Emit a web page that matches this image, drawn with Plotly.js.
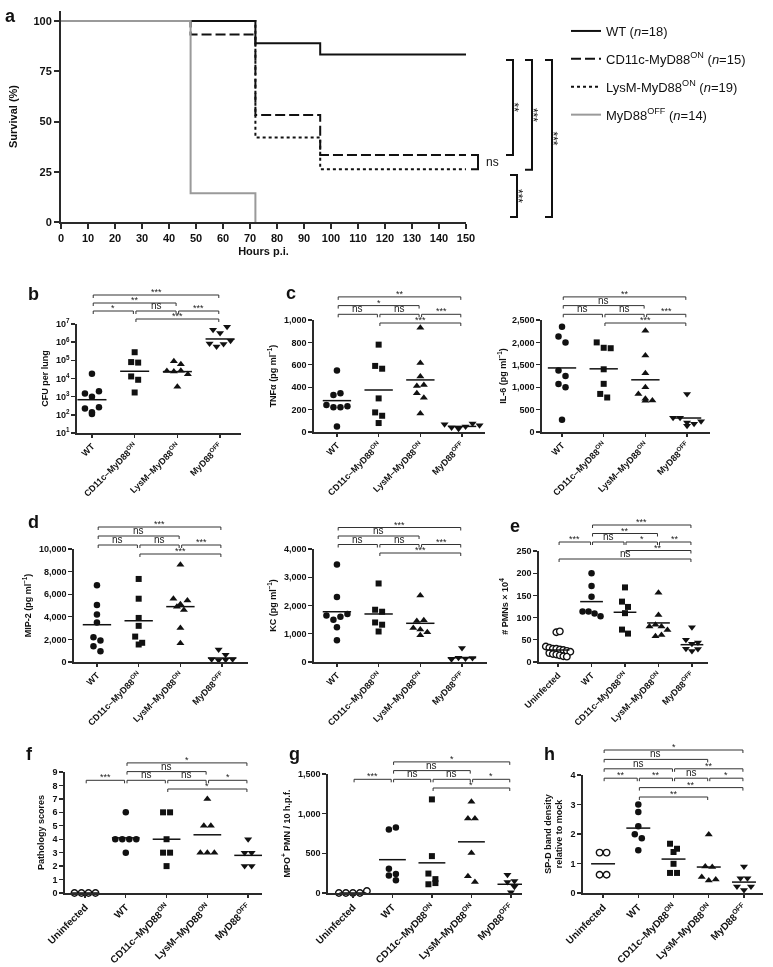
<!DOCTYPE html>
<html><head><meta charset="utf-8">
<script src="https://cdn.plot.ly/plotly-3.0.1.min.js"></script>
<style>body{margin:0;background:#fff}#chart{width:773px;height:967px;filter:grayscale(100%)}</style>
</head><body><div id="chart"></div>
<script>
// ================= DATA =================
// (a) Kaplan-Meier survival
const survHours = [0, 48, 72, 96, 150];
const survHoursOff = [0, 48, 72];
const survWT = [100, 100, 88.9, 83.3, 83.3];
const survCD11c = [100, 93.3, 53.3, 33.3, 33.3];
const survLysM = [100, 100, 42.1, 26.3, 26.3];
const survOff = [100, 14.3, 0];
const survNames = ['WT (<i>n</i>=18)', 'CD11c-MyD88<sup>ON</sup> (<i>n</i>=15)', 'LysM-MyD88<sup>ON</sup> (<i>n</i>=19)', 'MyD88<sup>OFF</sup> (<i>n</i>=14)'];
const survStats = [['CD11c', 'LysM', 'ns'], ['WT', 'CD11c', '**'], ['WT', 'LysM', '***'], ['WT', 'Off', '***'], ['LysM', 'Off', '***']];

// group labels
const groups4 = ['WT', 'CD11c–MyD88<sup>ON</sup>', 'LysM–MyD88<sup>ON</sup>', 'MyD88<sup>OFF</sup>'];
const groups5 = ['Uninfected', 'WT', 'CD11c–MyD88<sup>ON</sup>', 'LysM–MyD88<sup>ON</sup>', 'MyD88<sup>OFF</sup>'];

// (b) CFU per lung
const cfuPerLung = [
  [1.8e4, 1.5e3, 1.0e3, 2.0e3, 220, 110, 140, 260],
  [2.8e5, 8.0e4, 7.5e4, 1.3e4, 8.5e3, 1.7e3],
  [9.0e4, 6.0e4, 2.6e4, 2.4e4, 2.7e4, 1.7e4, 3.5e3],
  [4.9e6, 3.2e6, 7.0e6, 8.5e5, 5.7e5, 7.9e5, 1.2e6]
];
const cfuCentre = [680, 2.5e4, 2.4e4, 1.5e6];
const cfuTicks = [10, 100, 1e3, 1e4, 1e5, 1e6, 1e7];
const cfuTickText = ['10<sup>1</sup>', '10<sup>2</sup>', '10<sup>3</sup>', '10<sup>4</sup>', '10<sup>5</sup>', '10<sup>6</sup>', '10<sup>7</sup>'];
const cfuStats = [[0, 3, 3, '***'], [0, 2, 2, '**'], [0, 1, 1, '*'], [1, 2, 1, 'ns'], [2, 3, 1, '***'], [1, 3, 0, '***']];

// (c) TNF-alpha
const tnf = [
  [550, 330, 345, 240, 220, 220, 230, 50],
  [780, 590, 565, 300, 175, 145, 80],
  [930, 615, 495, 410, 420, 345, 305, 165],
  [70, 40, 30, 50, 75, 60]
];
const tnfCentre = [280, 375, 465, 50];
const tnfStats = [[0, 3, 3, '**'], [0, 2, 2, '*'], [0, 1, 1, 'ns'], [1, 2, 1, 'ns'], [2, 3, 1, '***'], [1, 3, 0, '***']];

// (c) IL-6
const il6 = [
  [2350, 2130, 2000, 1370, 1250, 1070, 1000, 275],
  [2000, 1880, 1870, 1400, 1075, 850, 770],
  [2260, 1710, 1310, 1000, 850, 740, 700, 705],
  [850, 320, 320, 210, 140, 185, 240]
];
const il6Centre = [1430, 1410, 1165, 312];
const il6Stats = [[0, 3, 3, '**'], [0, 2, 2, 'ns'], [0, 1, 1, 'ns'], [1, 2, 1, 'ns'], [2, 3, 1, '***'], [1, 3, 0, '***']];

// (d) MIP-2
const mip2 = [
  [6800, 5050, 4200, 3500, 2200, 1900, 1400, 950],
  [7350, 5600, 3900, 3200, 2250, 1550, 1700],
  [8600, 5600, 5100, 5450, 4900, 4600, 3000, 1650],
  [1100, 650, 250, 150, 200, 250]
];
const mip2Centre = [3300, 3650, 4900, 350];
const mip2Stats = [[0, 3, 3, '***'], [0, 2, 2, 'ns'], [0, 1, 1, 'ns'], [1, 2, 1, 'ns'], [2, 3, 1, '***'], [1, 3, 0, '***']];

// (d) KC
const kcData = [
  [3450, 2300, 1650, 1500, 1600, 1700, 1230, 770],
  [2780, 1850, 1780, 1400, 1320, 1080],
  [2350, 1450, 1480, 1200, 1150, 950, 1050],
  [500, 100, 150, 120, 140]
];
const kcCentre = [1780, 1700, 1370, 150];
const kcStats = [[0, 3, 3, '***'], [0, 2, 2, 'ns'], [0, 1, 1, 'ns'], [1, 2, 1, 'ns'], [2, 3, 1, '***'], [1, 3, 0, '***']];

// (e) PMNs x 10^4
const pmn = [
  [67, 69, 35, 32, 30, 30, 28, 27, 25, 23, 20, 18, 17, 15, 13, 12],
  [200, 171, 147, 114, 114, 109, 103],
  [168, 136, 124, 110, 73, 64],
  [156, 106, 80, 84, 80, 72, 58, 61],
  [78, 50, 41, 44, 30, 25, 29]
];
const pmnCentre = [27, 136, 112, 88, 39];
const pmnStats = [[1, 4, 4, '***'], [1, 3, 3, '**'], [0, 1, 2, '***'], [1, 2, 2, 'ns'], [2, 3, 2, '*'], [3, 4, 2, '**'], [2, 4, 1, '**'], [0, 4, 0, 'ns']];

// (f) Pathology scores
const patho = [
  [0, 0, 0, 0],
  [6, 4, 4, 4, 4, 3],
  [6, 6, 4, 3, 3, 2],
  [7, 5, 5, 3, 3, 3],
  [4, 3, 3, 2, 2]
];
const pathoCentre = [0, 4.1, 4, 4.33, 2.8];
const pathoStats = [[1, 4, 3, '*'], [1, 3, 2, 'ns'], [0, 1, 1, '***'], [1, 2, 1, 'ns'], [2, 3, 1, 'ns'], [3, 4, 1, '*'], [2, 4, 0, '*']];

// (g) MPO+ PMN / 10 h.p.f.
const mpo = [
  [0, 0, 0, 0, 25],
  [800, 825, 305, 240, 220, 160],
  [1180, 465, 245, 175, 110, 125],
  [1150, 940, 940, 505, 210, 140],
  [230, 140, 150, 80, 10]
];
const mpoCentre = [0, 420, 380, 645, 110];
const mpoStats = [[1, 4, 3, '*'], [1, 3, 2, 'ns'], [0, 1, 1, '***'], [1, 2, 1, 'ns'], [2, 3, 1, 'ns'], [3, 4, 1, '*'], [2, 4, 0, '*']];

// (h) SP-D band density relative to mock
const spd = [
  [1.37, 1.37, 0.62, 0.62],
  [3.0, 2.75, 2.26, 1.99, 1.86, 1.45],
  [1.67, 1.5, 1.39, 0.99, 0.68, 0.68],
  [1.98, 0.9, 0.88, 0.54, 0.42, 0.46],
  [0.9, 0.5, 0.5, 0.22, 0.1, 0.22]
];
const spdCentre = [0.99, 2.2, 1.15, 0.88, 0.37];
const spdStats = [[0, 4, 5, '*'], [0, 3, 4, 'ns'], [0, 2, 3, 'ns'], [2, 4, 3, '**'], [0, 1, 2, '**'], [1, 2, 2, '**'], [2, 3, 2, 'ns'], [3, 4, 2, '*'], [1, 4, 1, '**'], [1, 3, 0, '**']];

// ================= LAYOUT HELPERS =================
const W = 773, H = 967;
const FONT = 'Liberation Sans, Arial, Helvetica, sans-serif';
const AX = '#2a2a2a';
const INK = '#111';
const fx = px => px / W;
const fy = py => 1 - py / H;

const layout = {
  width: W, height: H,
  margin: {l: 0, r: 0, t: 0, b: 0},
  paper_bgcolor: '#fff', plot_bgcolor: 'rgba(0,0,0,0)',
  font: {family: FONT, color: INK, size: 11},
  showlegend: true,
  legend: {x: fx(566), y: fy(16), xanchor: 'left', yanchor: 'top', font: {size: 13, color: INK},
    bgcolor: 'rgba(0,0,0,0)', traceorder: 'grouped', tracegroupgap: 8, itemwidth: 30, itemclick: false, itemdoubleclick: false},
  shapes: [], annotations: []
};
const traces = [];

// ---------- panel a ----------
const survSeries = [
  {x: survHours, y: survWT, line: {color: INK, width: 2}},
  {x: survHours, y: survCD11c, line: {color: INK, width: 2, dash: '10px,4px'}},
  {x: survHours, y: survLysM, line: {color: INK, width: 2, dash: '3px,3px'}},
  {x: survHoursOff, y: survOff, line: {color: '#9a9a9a', width: 2}}
];
survSeries.forEach((s, i) => {
  traces.push({type: 'scatter', mode: 'lines', x: s.x, y: s.y, xaxis: 'x', yaxis: 'y',
    line: Object.assign({shape: 'hv'}, s.line), name: survNames[i], legendgroup: 'g' + i, showlegend: true,
    cliponaxis: false, hoverinfo: 'skip'});
});
layout.xaxis = {domain: [fx(61), fx(466)], range: [0, 150], anchor: 'y', tickmode: 'linear', tick0: 0, dtick: 10,
  showline: true, linewidth: 2, linecolor: AX, ticks: 'outside', ticklen: 5, tickwidth: 2, tickcolor: AX,
  tickfont: {size: 11, weight: 700, color: INK}, showgrid: false, zeroline: false,
  title: {text: 'Hours p.i.', font: {size: 11, weight: 700, color: INK}, standoff: 4}};
layout.yaxis = {domain: [fy(222), fy(11)], range: [0, 105], anchor: 'x', tickmode: 'array', tickvals: [0, 25, 50, 75, 100],
  showline: true, linewidth: 2, linecolor: AX, ticks: 'outside', ticklen: 5, tickwidth: 2, tickcolor: AX,
  tickfont: {size: 11, weight: 700, color: INK}, showgrid: false, zeroline: false,
  title: {text: 'Survival (%)', font: {size: 11, weight: 700, color: INK}, standoff: 14}};

// survival significance brackets (right side)
const survFinal = {WT: survWT[survWT.length - 1], CD11c: survCD11c[survCD11c.length - 1], LysM: survLysM[survLysM.length - 1], Off: survOff[survOff.length - 1]};
const survBracketX = [478, 513, 532, 552, 517];
const survTopInset = [0, 2.7, 2.7, 2.7, 2.9];
const survBotInset = [0, 0, 0.3, -2.5, -2.5];
survStats.forEach(([a, b, lab], k) => {
  const top = survFinal[a] - survTopInset[k];
  const bot = survFinal[b] - survBotInset[k];
  const xl = fx(survBracketX[k]), xs = fx(survBracketX[k] - 7);
  layout.shapes.push({type: 'path', xref: 'paper', yref: 'y', path: `M${xs},${top} L${xl},${top} L${xl},${bot} L${xs},${bot}`,
    line: {color: INK, width: 2}});
  if (lab === 'ns') {
    layout.annotations.push({xref: 'paper', yref: 'y', x: fx(survBracketX[k] + 6), y: (top + bot) / 2, xanchor: 'left',
      text: 'ns', showarrow: false, font: {size: 12, color: INK}});
  } else {
    layout.annotations.push({xref: 'paper', yref: 'y', x: fx(survBracketX[k] + 10), y: (top + bot) / 2, textangle: 90,
      text: lab, showarrow: false, font: {size: 12, color: INK}});
  }
});
layout.annotations.push({xref: 'paper', yref: 'paper', x: fx(3), y: fy(4), xanchor: 'left', yanchor: 'top', text: '<b>a</b>', showarrow: false, font: {size: 18, color: INK}});

// ---------- dot-plot panels ----------
const symbols5 = ['circle', 'circle', 'square', 'triangle-up', 'triangle-down'];
const openFill5 = [true, false, false, false, false];
const sizes5 = [6.5, 6.5, 6, 7, 7];

const panels = [
  {data: cfuPerLung, centre: cfuCentre, stats: cfuStats, labels: groups4, x: [77, 241], y: [324, 433], xr: [-0.35, 3.49], yr: [1, 7], log: true,
    tv: cfuTicks, tt: cfuTickText, title: 'CFU per lung', standoff: 6, bBase: 319, bStep: 8, letter: ['b', 26, 282], xfs: 9, gap: [7, 7, 7, 7]},
  {data: tnf, centre: tnfCentre, stats: tnfStats, labels: groups4, x: [314, 485], y: [320, 432], xr: [-0.55, 3.55], yr: [0, 1000],
    tv: [0, 200, 400, 600, 800, 1000], title: 'TNFα (pg ml<sup>−1</sup>)', standoff: 6, bBase: 323, bStep: 8.7, letter: ['c', 284, 281], xfs: 9, gap: [7, 7, 7, 7]},
  {data: il6, centre: il6Centre, stats: il6Stats, labels: groups4, x: [542, 710], y: [320, 432], xr: [-0.48, 3.55], yr: [0, 2500],
    tv: [0, 500, 1000, 1500, 2000, 2500], title: 'IL-6 (pg ml<sup>−1</sup>)', standoff: 4, bBase: 323, bStep: 8.7, letter: null, xfs: 9, gap: [7, 7, 7, 7]},
  {data: mip2, centre: mip2Centre, stats: mip2Stats, labels: groups4, x: [74, 248], y: [549, 662], xr: [-0.55, 3.62], yr: [0, 10000],
    tv: [0, 2000, 4000, 6000, 8000, 10000], title: 'MIP-2 (pg ml<sup>−1</sup>)', standoff: 6, bBase: 554, bStep: 9, letter: ['d', 26, 510], xfs: 9, gap: [7, 7, 7, 7]},
  {data: kcData, centre: kcCentre, stats: kcStats, labels: groups4, x: [314, 487], y: [549, 662], xr: [-0.55, 3.6], yr: [0, 4000],
    tv: [0, 1000, 2000, 3000, 4000], title: 'KC (pg ml<sup>−1</sup>)', standoff: 6, bBase: 553, bStep: 8.5, letter: null, xfs: 9, gap: [7, 7, 7, 7]},
  {data: pmn, centre: pmnCentre, stats: pmnStats, labels: groups5, x: [539, 708], y: [551, 662], xr: [-0.57, 4.48], yr: [0, 250],
    tv: [0, 50, 100, 150, 200, 250], title: '# PMNs × 10<sup>4</sup>', standoff: 6, bBase: 559, bStep: 8.5, letter: ['e', 508, 514], xfs: 9, gap: [3.5, 6, 6, 6, 6]},
  {data: patho, centre: pathoCentre, stats: pathoStats, labels: groups5, x: [65, 262], y: [772, 893], xr: [-0.49, 4.34], yr: [0, 9],
    tv: [0, 1, 2, 3, 4, 5, 6, 7, 8, 9], title: 'Pathology scores', standoff: 6, bBase: 789, bStep: 8.7, letter: ['f', 24, 742], xfs: 10, gap: [7, 7, 7, 7, 7]},
  {data: mpo, centre: mpoCentre, stats: mpoStats, labels: groups5, x: [328, 522], y: [774, 893], xr: [-0.63, 4.28], yr: [0, 1500],
    tv: [0, 500, 1000, 1500], title: 'MPO<sup>+</sup> PMN / 10 h.p.f.', standoff: 6, bBase: 788, bStep: 8.7, letter: ['g', 287, 742], xfs: 10, gap: [7, 7, 7, 7, 7]},
  {data: spd, centre: spdCentre, stats: spdStats, labels: groups5, x: [583, 763], y: [775, 893], xr: [-0.57, 4.54], yr: [0, 4],
    tv: [0, 1, 2, 3, 4], title: 'SP-D band density<br>relative to mock', standoff: 6, bBase: 797, bStep: 9.4, letter: ['h', 542, 742], xfs: 10, gap: [7, 7, 7, 7, 7]}
];

// spread points that would overlap (GraphPad-style scatter)
function swarmOffsets(vals, toPx, gapPx, catPx) {
  const idx = vals.map((v, i) => i).sort((a, b) => toPx(vals[b]) - toPx(vals[a]));
  const rows = [];
  idx.forEach(i => {
    const p = toPx(vals[i]);
    const last = rows[rows.length - 1];
    if (last && Math.abs(last.p0 - p) < 6.5) last.items.push(i); else rows.push({p0: p, items: [i]});
  });
  const off = new Array(vals.length).fill(0);
  rows.forEach(r => {
    const k = r.items.length;
    r.items.sort((a, b) => a - b).forEach((i, j) => { off[i] = (j - (k - 1) / 2) * gapPx / catPx; });
  });
  return off;
}

panels.forEach((p, pi) => {
  const n = pi + 2;
  const xa = 'x' + n, ya = 'y' + n;
  const nG = p.labels.length;
  const shift = 5 - nG; // 4-group panels skip the 'Uninfected' style
  const hPx = p.y[1] - p.y[0], wPx = p.x[1] - p.x[0];
  const catPx = wPx / (p.xr[1] - p.xr[0]);
  const toPx = p.log ? (v => Math.log10(v) * hPx / (p.yr[1] - p.yr[0])) : (v => v * hPx / (p.yr[1] - p.yr[0]));

  p.data.forEach((vals, g) => {
    const s = g + shift;
    const off = swarmOffsets(vals, toPx, p.gap[g], catPx);
    const open = openFill5[s];
    traces.push({type: 'scatter', mode: 'markers', xaxis: xa, yaxis: ya, showlegend: false, cliponaxis: false, hoverinfo: 'skip',
      x: vals.map((v, i) => g + off[i]), y: vals,
      marker: {symbol: symbols5[s], size: sizes5[s], color: open ? '#ffffff' : INK, line: {color: INK, width: open ? 1.4 : 0}}});
    traces.push({type: 'scatter', mode: 'lines', xaxis: xa, yaxis: ya, showlegend: false, cliponaxis: false, hoverinfo: 'skip',
      x: [g - 0.34, g + 0.34], y: [p.centre[g], p.centre[g]], line: {color: INK, width: 1.5}});
  });

  layout['xaxis' + n] = {domain: [fx(p.x[0]), fx(p.x[1])], range: p.xr, anchor: ya,
    tickmode: 'array', tickvals: p.labels.map((_, i) => i), ticktext: p.labels, tickangle: -45,
    showline: true, linecolor: AX, linewidth: 1.6, ticks: 'outside', ticklen: 3, tickwidth: 1.4, tickcolor: AX,
    showgrid: false, zeroline: false, tickfont: {size: p.xfs, weight: 700, color: INK}};
  const yax = {domain: [fy(p.y[1]), fy(p.y[0])], range: p.yr, type: p.log ? 'log' : 'linear', anchor: xa,
    tickmode: 'array', tickvals: p.tv,
    showline: true, linecolor: AX, linewidth: 1.6, ticks: 'outside', ticklen: 4, tickwidth: 1.4, tickcolor: AX,
    showgrid: false, zeroline: false, tickfont: {size: 9, weight: 700, color: INK},
    title: {text: p.title, font: {size: 9, weight: 700, color: INK}, standoff: p.standoff}};
  if (p.tt) yax.ticktext = p.tt; else yax.tickformat = ',d';
  layout['yaxis' + n] = yax;

  // significance brackets
  p.stats.forEach(([a, b, row, lab]) => {
    const py = p.bBase - row * p.bStep;
    const y0 = fy(py), y1 = fy(py + 3);
    const xa0 = a + 0.03, xb0 = b - 0.03;
    layout.shapes.push({type: 'path', xref: xa, yref: 'paper', path: `M${xa0},${y1} L${xa0},${y0} L${xb0},${y0} L${xb0},${y1}`,
      line: {color: '#333', width: 1}});
    layout.annotations.push({xref: xa, yref: 'paper', x: (a + b) / 2, y: y0, yanchor: 'bottom', text: lab, showarrow: false,
      font: {size: lab === 'ns' ? 10 : 9, color: '#222'}, yshift: lab === 'ns' ? -2 : -4});
  });

  if (p.letter) {
    layout.annotations.push({xref: 'paper', yref: 'paper', x: fx(p.letter[1]), y: fy(p.letter[2]), xanchor: 'left', yanchor: 'top',
      text: '<b>' + p.letter[0] + '</b>', showarrow: false, font: {size: 18, color: INK}});
  }
});

Plotly.newPlot('chart', traces, layout, {staticPlot: true, displayModeBar: false});
</script>
</body></html>
